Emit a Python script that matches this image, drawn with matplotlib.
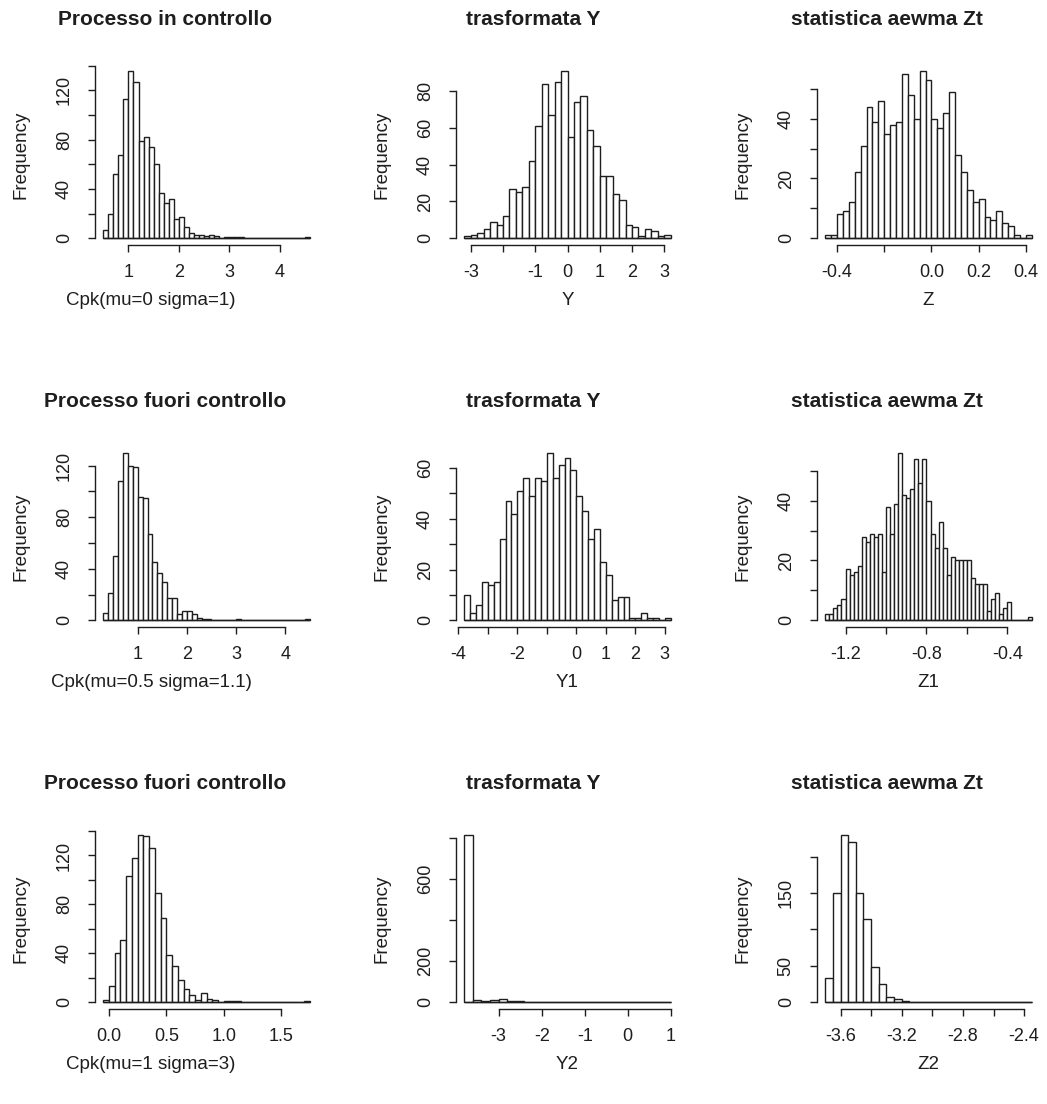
import numpy as np
import matplotlib
matplotlib.use('Agg')
import matplotlib.pyplot as plt

plt.rcParams['font.family'] = ['Liberation Sans', 'DejaVu Sans']

# ---- row 1: processo in controllo ----
cpk0_start, cpk0_width = 0.5, 0.1
cpk0_counts = [7, 20, 52, 68, 113, 136, 127, 79, 82, 74, 60, 37, 29, 32, 16, 17, 9, 4, 3, 3,
               2, 3, 2, 0, 1, 1, 1, 1, 0, 0, 0, 0, 0, 0, 0, 0, 0, 0, 0, 0, 1]

y0_start, y0_width = -3.2, 0.2
y0_counts = [1, 2, 3, 5, 9, 7, 12, 27, 25, 28, 42, 61, 84, 67, 85, 91, 55, 74, 77, 59,
             50, 34, 34, 24, 21, 7, 6, 1, 5, 4, 1, 2]

z0_start, z0_width = -0.45, 0.025
z0_counts = [1, 1, 8, 9, 12, 22, 31, 44, 39, 46, 35, 38, 39, 55, 48, 40, 56, 53, 40, 37,
             42, 49, 28, 22, 16, 12, 13, 7, 6, 9, 5, 4, 1, 0, 1]

# ---- row 2: mu=0.5 sigma=1.1 ----
cpk1_start, cpk1_width = 0.3, 0.1
cpk1_counts = [6, 21, 50, 108, 130, 120, 119, 96, 95, 67, 45, 37, 30, 17, 17, 5, 7, 7, 5, 2,
               1, 1, 0, 0, 0, 0, 0, 1, 0, 0, 0, 0, 0, 0, 0, 0, 0, 0, 0, 0, 0, 1]

y1_start, y1_width = -3.8, 0.2
y1_counts = [10, 3, 6, 15, 14, 15, 32, 47, 42, 51, 56, 49, 56, 55, 66, 56, 61, 64, 59, 49,
             43, 32, 36, 23, 18, 8, 9, 9, 1, 1, 3, 1, 1, 0, 1]

z1_start, z1_width = -1.3, 0.02
z1_counts = [2, 2, 4, 5, 7, 17, 15, 16, 18, 28, 26, 29, 28, 29, 16, 38, 29, 39, 56, 42,
             41, 44, 54, 46, 54, 40, 29, 24, 33, 24, 15, 21, 20, 20, 20, 20, 14, 12, 12, 12,
             3, 7, 9, 2, 4, 6, 0, 0, 0, 0, 1]

# ---- row 3: mu=1 sigma=3 ----
cpk2_start, cpk2_width = -0.05, 0.05
cpk2_counts = [2, 13, 40, 51, 103, 118, 137, 136, 126, 89, 69, 39, 30, 18, 11, 6, 2, 8, 3, 2,
               0, 1, 1, 1, 0, 0, 0, 0, 0, 0, 0, 0, 0, 0, 0, 1]

y2_start, y2_width = -3.8, 0.2
y2_counts = [816, 10, 4, 12, 14, 8, 6, 3, 0, 0, 0, 0, 0, 0, 0, 0, 0, 0, 0, 0, 0, 0, 0, 1]

z2_start, z2_width = -3.7, 0.05
z2_counts = [33, 150, 230, 220, 150, 115, 48, 25, 7, 4, 2, 1, 1, 1, 0, 0, 1, 1, 1, 1,
             1, 1, 0, 0, 0, 0, 1]

titles = ['Processo in controllo', 'trasformata Y', 'statistica aewma Zt',
          'Processo fuori controllo', 'trasformata Y', 'statistica aewma Zt',
          'Processo fuori controllo', 'trasformata Y', 'statistica aewma Zt']
xlabels = ['Cpk(mu=0 sigma=1)', 'Y', 'Z',
           'Cpk(mu=0.5 sigma=1.1)', 'Y1', 'Z1',
           'Cpk(mu=1 sigma=3)', 'Y2', 'Z2']

xticks = [[1, 2, 3, 4], [-3, -2, -1, 0, 1, 2, 3], [-0.4, -0.2, 0.0, 0.2, 0.4],
          [1, 2, 3, 4], [-4, -3, -2, -1, 0, 1, 2, 3], [-1.2, -1.0, -0.8, -0.6, -0.4],
          [0.0, 0.5, 1.0, 1.5], [-3, -2, -1, 0, 1], [-3.6, -3.4, -3.2, -3.0, -2.8, -2.6, -2.4]]
xticklabels = [['1', '2', '3', '4'], ['-3', '', '-1', '0', '1', '2', '3'],
               ['-0.4', '', '0.0', '0.2', '0.4'],
               ['1', '2', '3', '4'], ['-4', '', '-2', '', '0', '1', '2', '3'],
               ['-1.2', '', '-0.8', '', '-0.4'],
               ['0.0', '0.5', '1.0', '1.5'], ['-3', '-2', '-1', '0', '1'],
               ['-3.6', '', '-3.2', '', '-2.8', '', '-2.4']]
yticks = [list(range(0, 141, 20)), list(range(0, 81, 20)), list(range(0, 51, 10)),
          list(range(0, 121, 20)), list(range(0, 61, 10)), list(range(0, 51, 10)),
          list(range(0, 141, 20)), list(range(0, 801, 200)), list(range(0, 201, 50))]
yticklabels = [['0', '', '40', '', '80', '', '120', ''], ['0', '20', '40', '60', '80'],
               ['0', '', '20', '', '40', ''],
               ['0', '', '40', '', '80', '', '120'], ['0', '', '20', '', '40', '', '60'],
               ['0', '', '20', '', '40', ''],
               ['0', '', '40', '', '80', '', '120', ''], ['0', '200', '', '600', ''],
               ['0', '50', '', '150', '']]

hists = [(cpk0_start, cpk0_width, cpk0_counts), (y0_start, y0_width, y0_counts),
         (z0_start, z0_width, z0_counts),
         (cpk1_start, cpk1_width, cpk1_counts), (y1_start, y1_width, y1_counts),
         (z1_start, z1_width, z1_counts),
         (cpk2_start, cpk2_width, cpk2_counts), (y2_start, y2_width, y2_counts),
         (z2_start, z2_width, z2_counts)]

W, H = 1047, 1104
fig = plt.figure(figsize=(W / 100, H / 100), dpi=100)
fig.patch.set_facecolor('white')

col_left = [95, 456, 817]
row_top = [64, 446, 828]
pw, ph = 223, 181
# horizontal shift (pt) of title / x label in each column, as placed in the source
title_dx = [-30, -25, -30]
xlab_dx = [-40, 0, 0]
ink = '#1e1e1e'

for i, (start, width, counts) in enumerate(hists):
    r, c = divmod(i, 3)
    ax = fig.add_axes([col_left[c] / W, 1 - (row_top[r] + ph) / H, pw / W, ph / H])
    counts = np.array(counts)
    edges = start + width * np.arange(len(counts) + 1)

    ax.bar(edges[:-1], counts, width=width, align='edge', color='white',
           edgecolor=ink, linewidth=1.0)
    ax.hlines(0, edges[0], edges[-1], color=ink, linewidth=1.0)

    # R style 4% padding
    xr = edges[-1] - edges[0]
    ax.set_xlim(edges[0] - 0.04 * xr, edges[-1] + 0.04 * xr)
    ymax = counts.max()
    ax.set_ylim(-0.04 * ymax, 1.04 * ymax)

    for s in ['top', 'right']:
        ax.spines[s].set_visible(False)
    for s in ['left', 'bottom']:
        ax.spines[s].set_linewidth(1.0)
        ax.spines[s].set_color(ink)
    ax.spines['bottom'].set_bounds(xticks[i][0], xticks[i][-1])
    ax.spines['left'].set_bounds(yticks[i][0], yticks[i][-1])

    ax.set_xticks(xticks[i])
    ax.set_xticklabels(xticklabels[i])
    ax.set_yticks(yticks[i])
    ax.set_yticklabels(yticklabels[i], rotation=90, va='center')
    ax.tick_params(direction='out', length=5, width=1.0, color=ink,
                   labelsize=13, labelcolor=ink)
    ax.tick_params(axis='x', pad=9)
    ax.tick_params(axis='y', pad=11)

    ax.annotate(titles[i], xy=(0.5, 1), xycoords='axes fraction',
                xytext=(title_dx[c], 32), textcoords='offset points',
                ha='center', va='center', fontsize=15, fontweight='bold', color=ink)
    ax.annotate(xlabels[i], xy=(0.5, 0), xycoords='axes fraction',
                xytext=(xlab_dx[c], -40), textcoords='offset points',
                ha='center', va='center', fontsize=13.5, color=ink)
    ax.annotate('Frequency', xy=(0, 0.5), xycoords='axes fraction', xytext=(-53, 0),
                textcoords='offset points', ha='center', va='center', rotation=90,
                fontsize=13.5, color=ink)

fig.savefig('out.png', dpi=100, facecolor='white')
